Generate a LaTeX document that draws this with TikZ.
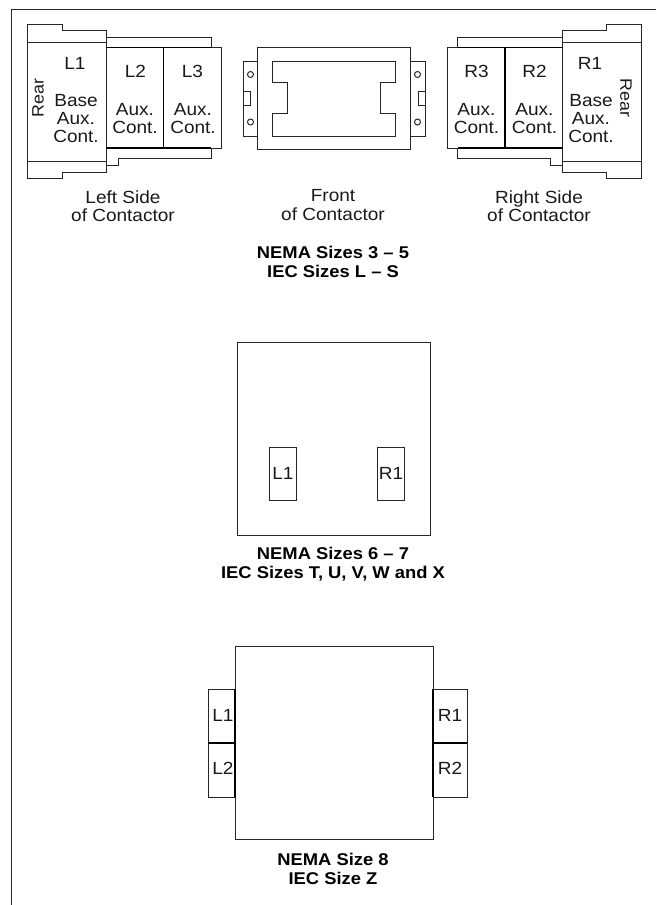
\documentclass[tikz,border=0pt]{standalone}
\usepackage{fontspec}
\setmainfont[FakeStretch=1.08]{Liberation Sans}
\tikzset{
 x=1pt,y=-1pt,
 ln/.style={draw=black!85,line width=1pt},
 thk/.style={draw=black,line width=1.7pt},
 lab/.style={inner sep=0pt,font=\fontsize{17.6}{18.3}\selectfont,align=center,text=black!90},
 head/.style={inner sep=0pt,font=\fontsize{17}{18.7}\selectfont\bfseries,align=center},
 sbox/.style={ln,lab,minimum width=27.5pt,minimum height=53pt},
}
\begin{document}
\begin{tikzpicture}
\useasboundingbox (0,0) rectangle (656,905);
\draw[ln] (656,9) -- (11.5,9) -- (11.5,905);
% left side
\draw[ln] (27.5,42) -- (27.5,24) -- (62,24) -- (62,30.5) -- (106,30.5) -- (106,47.5);
\draw[ln] (27.5,42) rectangle (106,161.5);
\draw[ln] (27.5,161.5) -- (27.5,178.5) -- (62,178.5) -- (62,172.5) -- (106,172.5) -- (106,148);
\draw[ln] (106,37) -- (211,37) -- (211,47.5);
\draw[ln] (211,148) -- (211,158) -- (118,158) -- (118,165.5) -- (106,165.5);
\draw[ln] (211,47.5) -- (221,47.5) -- (221,148) -- (211,148);
\draw[thk] (106,47.5) -- (211,47.5) (106,148) -- (211,148) (163.5,47.5) -- (163.5,148);
\node[lab] (l1) at (75,63.5) {L1};
\node[lab] (l2) at (135.5,71) {L2};
\node[lab] (l3) at (192.5,71) {L3};
\node[lab,font=\fontsize{16.5}{18}\selectfont,rotate=90] (rearl) at (38,98) {Rear};
\node[lab] (bl) at (76,118.5) {Base\\Aux.\\Cont.};
\node[lab] (al2) at (135,118.5) {Aux.\\Cont.};
\node[lab] (al3) at (193,118.5) {Aux.\\Cont.};
\node[lab] (ls) at (123,206) {Left Side\\of Contactor};
% right side
\draw[ln] (641,42) -- (641,24) -- (606.5,24) -- (606.5,30.5) -- (562.5,30.5) -- (562.5,47.5);
\draw[ln] (562.5,42) rectangle (641,161.5);
\draw[ln] (641,161.5) -- (641,178.5) -- (606.5,178.5) -- (606.5,172.5) -- (562.5,172.5) -- (562.5,148);
\draw[ln] (562.5,37) -- (457.5,37) -- (457.5,47.5);
\draw[ln] (457.5,148) -- (457.5,158) -- (550.5,158) -- (550.5,165.5) -- (562.5,165.5);
\draw[ln] (457.5,47.5) -- (447.5,47.5) -- (447.5,148) -- (457.5,148);
\draw[thk] (562.5,47.5) -- (457.5,47.5) (562.5,148) -- (457.5,148) (505,47.5) -- (505,148);
\node[lab] (r1) at (590,63) {R1};
\node[lab] (r2) at (534.5,71) {R2};
\node[lab] (r3) at (476.5,71) {R3};
\node[lab,font=\fontsize{16.5}{18}\selectfont,rotate=-90] (rearr) at (626,98) {Rear};
\node[lab] (br) at (591,118.5) {Base\\Aux.\\Cont.};
\node[lab] (ar2) at (534.5,118.5) {Aux.\\Cont.};
\node[lab] (ar3) at (476.5,118.5) {Aux.\\Cont.};
\node[lab] (rs) at (539,206) {Right Side\\of Contactor};
% front
\draw[ln] (257.5,47) rectangle (410.5,149);
\draw[ln] (272.5,61) -- (395.5,61) -- (395.5,82) -- (380.5,82) -- (380.5,113.5) -- (395.5,113.5) -- (395.5,136) -- (272.5,136) -- (272.5,113.5) -- (287.5,113.5) -- (287.5,82) -- (272.5,82) -- cycle;
\draw[ln] (257.5,61) -- (243,61) -- (243,136) -- (257.5,136);
\draw[ln] (410.5,61) -- (425,61) -- (425,136) -- (410.5,136);
\draw[ln] (243,91) rectangle (250,105.5);
\draw[ln] (418,91) rectangle (425,105.5);
\draw[ln] (250.5,74.5) circle (3);
\draw[ln] (250.5,122) circle (3);
\draw[ln] (417.5,74.5) circle (3);
\draw[ln] (417.5,122) circle (3);
\node[lab] (fc) at (333,205) {Front\\of Contactor};
\node[head] (h1) at (333,262) {NEMA Sizes 3 – 5\\IEC Sizes L – S};
% middle
\draw[ln] (237.5,342.5) rectangle (430,535);
\node[sbox] (ml) at (283,473.5) {L1};
\node[sbox] (mr) at (391,473.5) {R1};
\node[head] (h2) at (333,564) {NEMA Sizes 6 – 7\\IEC Sizes T, U, V, W and X};
% bottom
\draw[ln] (235,646) rectangle (433,839);
\draw[ln] (235,689) -- (208,689) -- (208,797) -- (235,797);
\draw[ln] (433,689) -- (467,689) -- (467,797) -- (433,797);
\draw[thk] (235,689) -- (235,797) (208,743) -- (235,743);
\draw[thk] (433,689) -- (433,797) (433,743) -- (467,743);
\node[lab] (b1) at (223,715) {L1};
\node[lab] (b2) at (223,768) {L2};
\node[lab] (b3) at (450,715) {R1};
\node[lab] (b4) at (450,768) {R2};
\node[head] (h3) at (333,869) {NEMA Size 8\\IEC Size Z};
\end{tikzpicture}
\end{document}
